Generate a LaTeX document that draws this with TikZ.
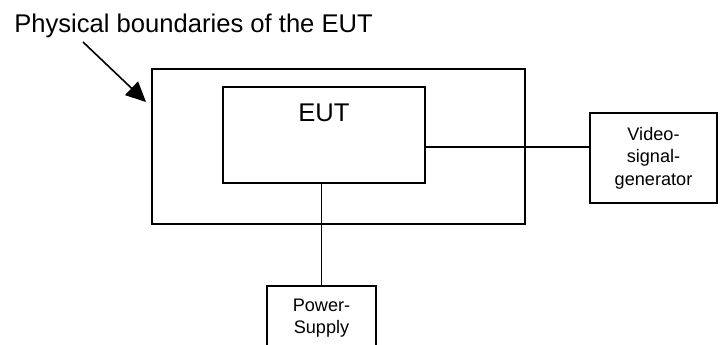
\documentclass[tikz,border=0pt]{standalone}
\usepackage{fontspec}
\setmainfont{Liberation Sans}
\usetikzlibrary{arrows.meta,positioning}

\begin{document}
\begin{tikzpicture}[
  x=0.75pt, y=-0.75pt,
  frame/.style={rectangle, draw=black, line width=1.4pt, inner sep=0pt},
  unit/.style={frame, align=center, font=\fontsize{13.6}{16.9}\selectfont},
  arr/.style={-{Triangle[length=15pt,width=14pt]}, line width=1.2pt},
  wire/.style={line width=1.4pt}
]
  \useasboundingbox (0,0) rectangle (720,344);

  \node[anchor=base west, font=\fontsize{19.2}{23}\selectfont, inner sep=0pt]
    (title) at (14,32) {Physical boundaries of the EUT};

  \node[frame, minimum width=279.75pt, minimum height=116.25pt] (bound) at (338.5,146.5) {};
  \node[frame, minimum width=151.5pt, minimum height=72pt] (eut) at (324,135) {};
  \node[font=\fontsize{19.2}{23}\selectfont, inner sep=0pt] (eutlabel) at (324,112.5) {EUT};

  \node[unit, minimum width=95.25pt, minimum height=67.5pt] (video) at (653.5,158)
    {Video-\\signal-\\generator};
  \node[unit, minimum width=81.75pt, minimum height=48pt] (power) at (321.5,318)
    {Power-\\Supply};

  \coordinate (tail) at (83,42);
  \coordinate (tip)  at (146,102);

  \draw[arr]  (tail) -- (tip);
  \draw[wire] ([yshift=-9pt]eut.east) -- ([yshift=-9pt]eut.east -| video.west);
  \draw[wire] (power.north |- eut.south) -- (power.north);
\end{tikzpicture}
\end{document}
